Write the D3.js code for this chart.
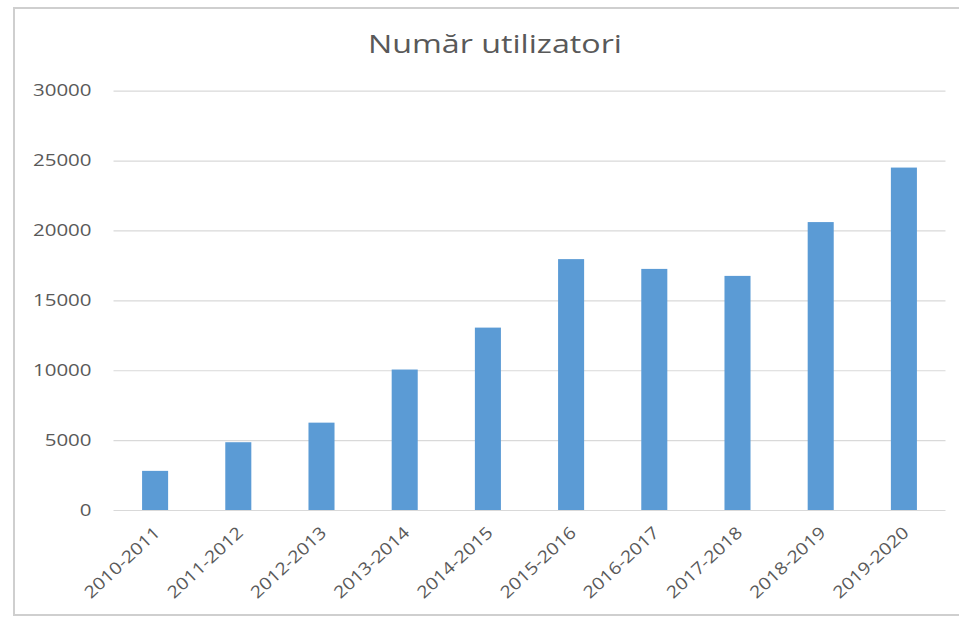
<!DOCTYPE html>
<html>
<head>
<meta charset="utf-8">
<script src="https://cdn.jsdelivr.net/npm/d3@7"></script>
<style>
  body { margin: 0; background: #fff; }
  text { font-family: "Open Sans", sans-serif; fill: #595959; }
</style>
</head>
<body>
<svg id="chart" width="959" height="617"></svg>
<script>
const years = ["2010-2011", "2011-2012", "2012-2013", "2013-2014", "2014-2015",
  "2015-2016", "2016-2017", "2017-2018", "2018-2019", "2019-2020"];
const users = [2800, 4850, 6250, 10050, 13050, 17950, 17250, 16750, 20600, 24500];
const yTicks = [0, 5000, 10000, 15000, 20000, 25000, 30000];
const title = "Număr utilizatori";

const svg = d3.select("#chart");
const plotLeft = 113.5, plotRight = 945.5, plotTop = 90.7, plotBottom = 510;

// frame of the chart area
svg.append("rect")
  .attr("x", 14).attr("y", 8)
  .attr("width", 960).attr("height", 607)
  .attr("fill", "#fff")
  .attr("stroke", "#cfcfcf")
  .attr("stroke-width", 2);

const x = d3.scaleBand().domain(years).range([plotLeft, plotRight]).paddingInner(0.687).paddingOuter(0.3435);
const y = d3.scaleLinear().domain([0, 30000]).range([plotBottom, plotTop]);

// gridlines + y labels
const yAxis = svg.append("g")
  .attr("transform", "translate(" + plotLeft + ",0)")
  .call(d3.axisLeft(y).tickValues(yTicks).tickFormat(d3.format("d"))
    .tickSize(-(plotRight - plotLeft)).tickPadding(22));
yAxis.select(".domain").remove();
yAxis.selectAll("line").attr("stroke", "#d9d9d9").attr("stroke-width", 1.2);
yAxis.selectAll("text")
  .attr("font-size", 16)
  .style("font-family", "Open Sans, sans-serif")
  .attr("fill", "#595959")
  .each(function () {
    this.setAttribute("textLength", this.getComputedTextLength() * 1.28);
    this.setAttribute("lengthAdjust", "spacingAndGlyphs");
  });

// bars
svg.append("g")
  .selectAll("rect")
  .data(users)
  .enter()
  .append("rect")
  .attr("x", function (d, i) { return x(years[i]); })
  .attr("y", function (d) { return y(d); })
  .attr("width", x.bandwidth())
  .attr("height", function (d) { return y(0) - y(d); })
  .attr("fill", "#5b9bd5");

// x labels
const xAxis = svg.append("g")
  .attr("transform", "translate(0," + plotBottom + ")")
  .call(d3.axisBottom(x).tickSize(0).tickPadding(0));
xAxis.select(".domain").remove();
xAxis.selectAll("text")
  .attr("font-size", 17)
  .style("font-family", "Open Sans, sans-serif")
  .attr("fill", "#595959")
  .attr("text-anchor", "end")
  .attr("dy", 0)
  .attr("transform", "translate(6,24) rotate(-43)")
  .attr("textLength", 96)
  .attr("lengthAdjust", "spacingAndGlyphs");

// title
svg.append("text")
  .attr("x", 495)
  .attr("y", 53)
  .attr("text-anchor", "middle")
  .attr("font-size", 25)
  .attr("textLength", 254)
  .attr("lengthAdjust", "spacingAndGlyphs")
  .text(title);
</script>
</body>
</html>
